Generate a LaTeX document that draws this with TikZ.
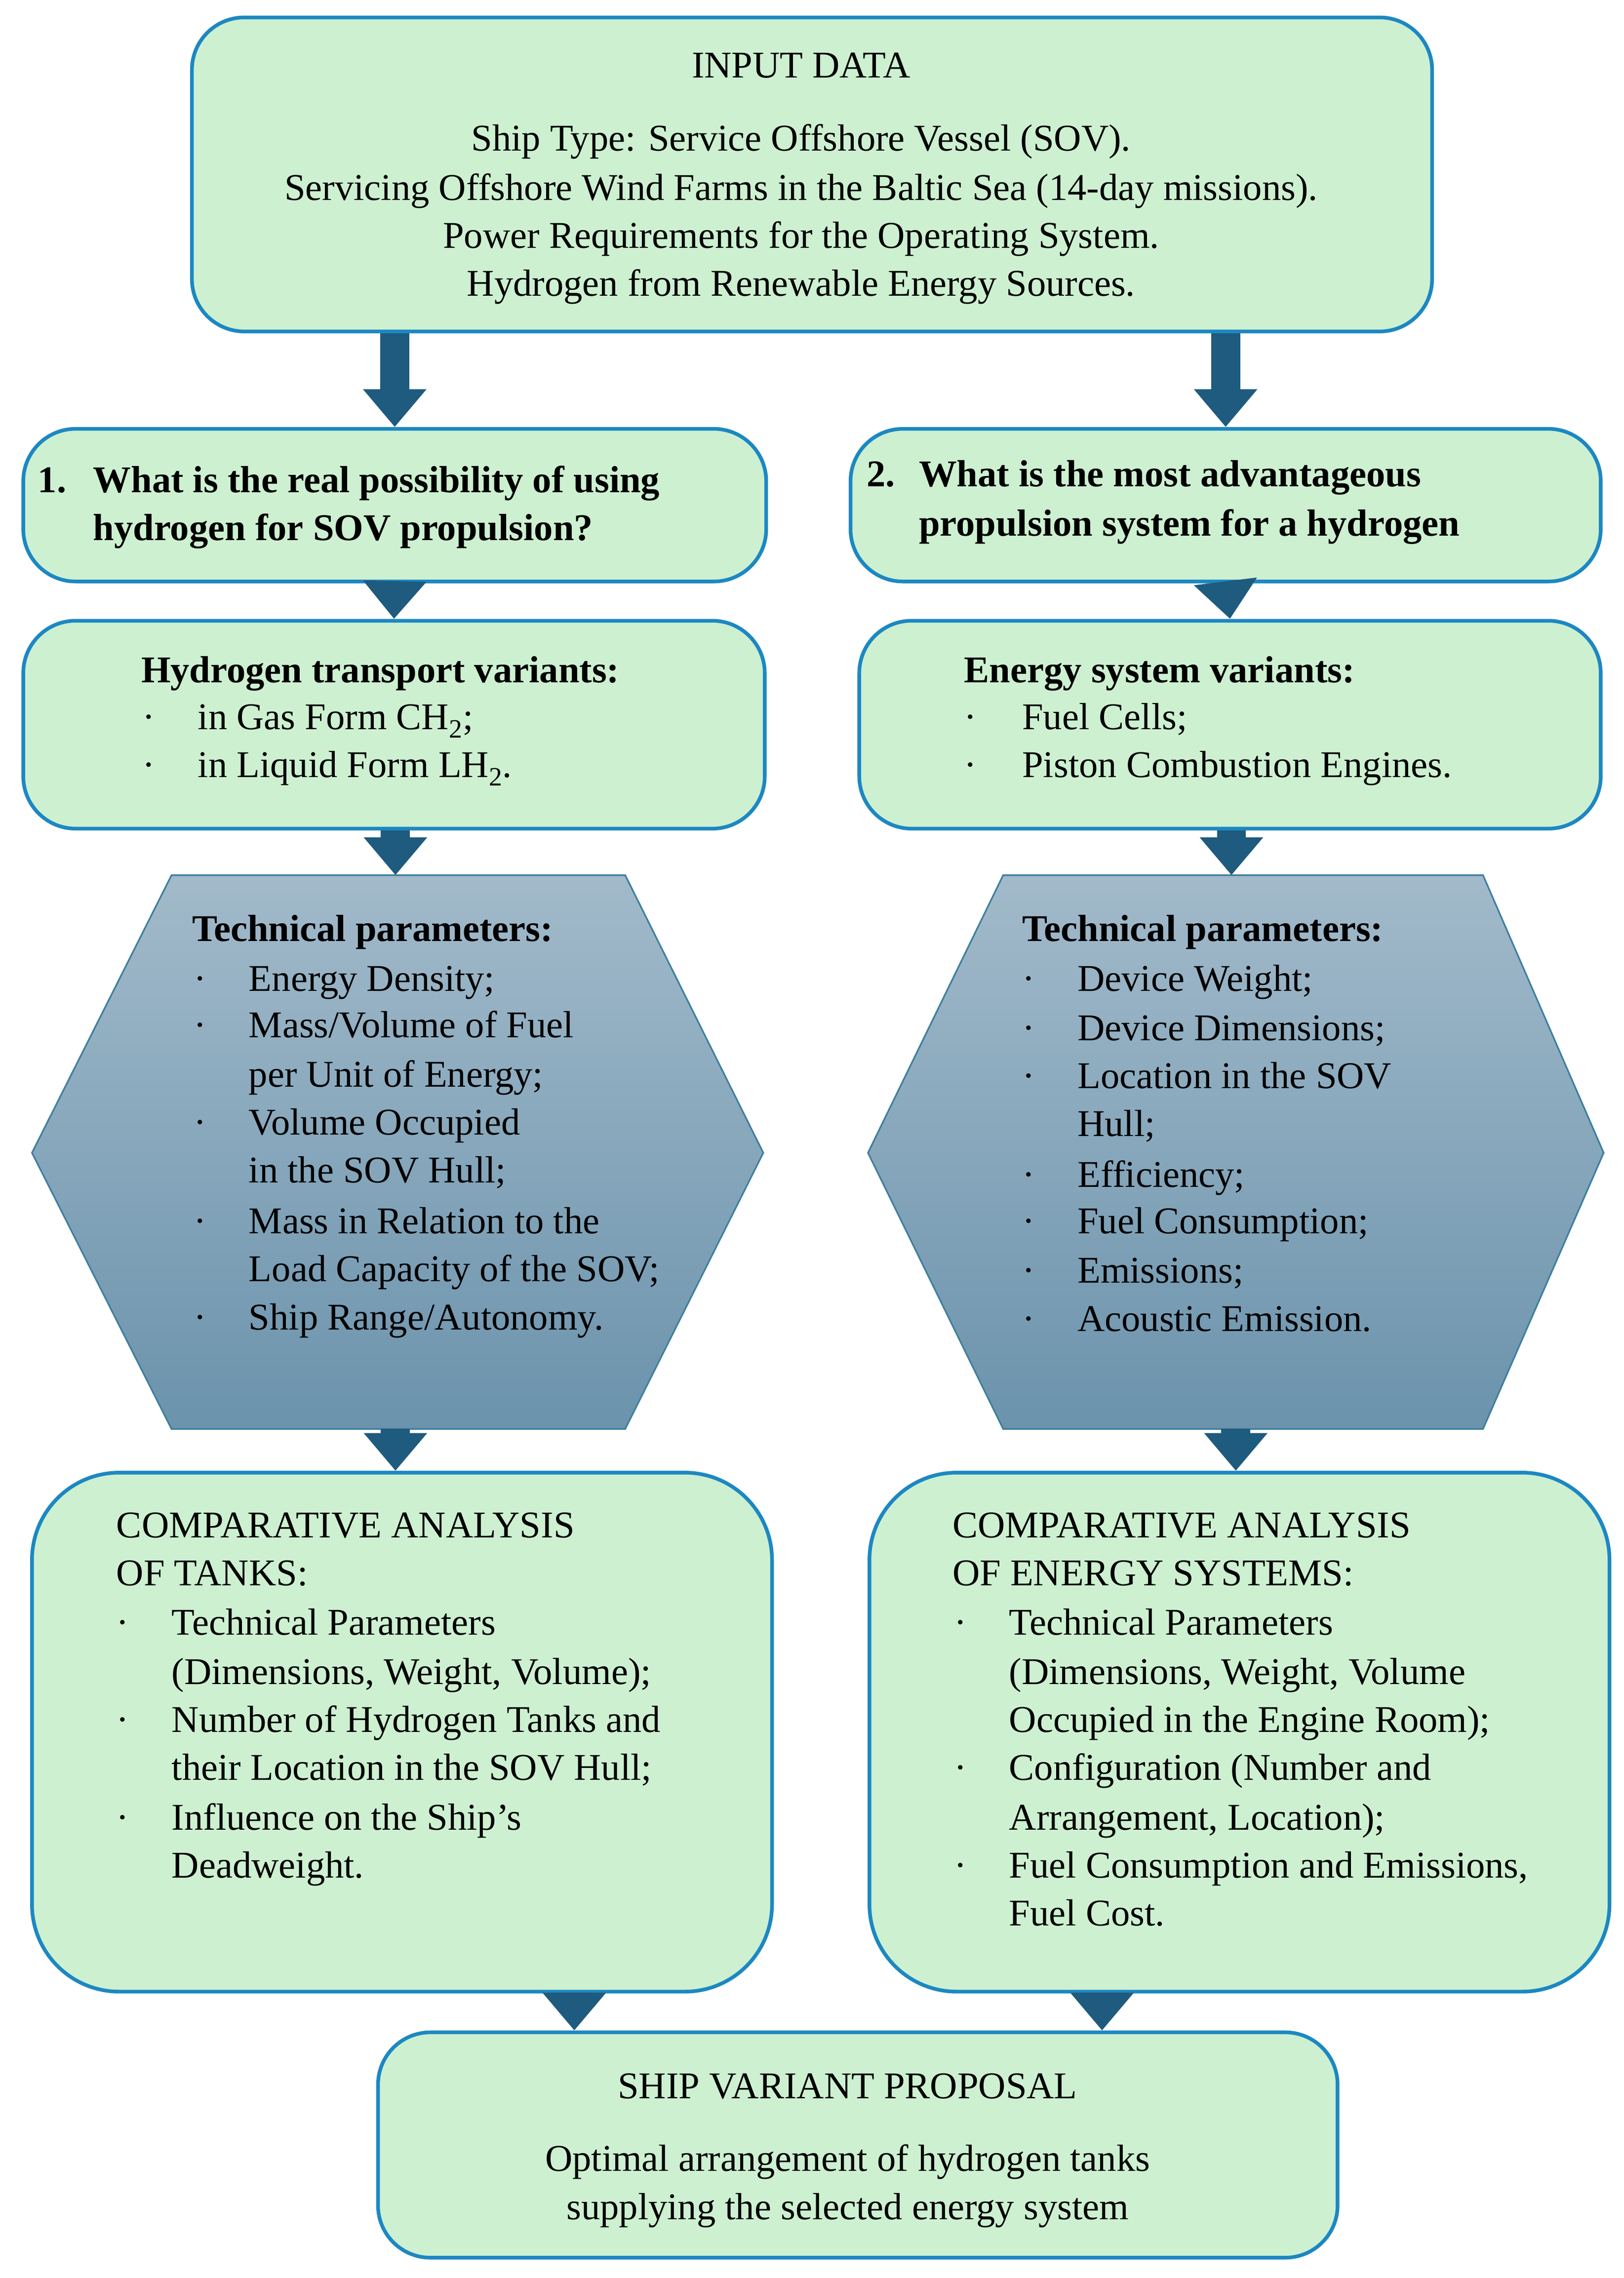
\documentclass[tikz,border=0pt]{standalone}
\usepackage{fontspec}
\setmainfont{Liberation Serif}
\usetikzlibrary{fit,arrows.meta}
\definecolor{gfill}{HTML}{CDF0D1}
\definecolor{gline}{HTML}{1C88C2}
\definecolor{arrc}{HTML}{1E5B7E}
\definecolor{htop}{HTML}{A2BACA}
\definecolor{hbot}{HTML}{6B93AC}
\definecolor{hline}{HTML}{3F7FA0}
\begin{document}
\begin{tikzpicture}[x=0.05cm,y=-0.05cm,
  box/.style={draw=gline,fill=gfill,line width=3.6pt,rounded corners=1.8cm,inner sep=0pt},
  bigbox/.style={box,rounded corners=3cm},
  hexs/.style={draw=hline,line width=1.6pt,top color=htop,bottom color=hbot},
  arr/.style={draw=arrc,line width=1cm,-{Triangle[width=2.1cm,length=1.3cm,fill=arrc]}},
  tx/.style={font=\fontsize{37}{44}\selectfont,inner sep=0pt,anchor=mid west,yshift=-0.3cm},
  tc/.style={tx,anchor=mid},
  bx/.style={tx,font=\fontsize{37}{44}\selectfont\bfseries},
  dot/.style={tx,font=\fontsize{37}{44}\selectfont}]
\useasboundingbox (0,0) rectangle (1117,1567);
% boxes
\node[box,fit={(132,12)(985,228)}] (inp) {};
\node[box,fit={(16,295)(527,400)}] (q1) {};
\node[box,fit={(585,295)(1101,400)}] (q2) {};
\node[box,fit={(16,427)(526,570)}] (v1) {};
\node[box,fit={(591,427)(1101,570)}] (v2) {};
\path[hexs] (118,602) -- (430,602) -- (525,793) -- (430,983) -- (118,983) -- (22,793) -- cycle;
\path[hexs] (690,602) -- (1020,602) -- (1103,793) -- (1020,983) -- (690,983) -- (597,793) -- cycle;
\coordinate (h1t) at (272,602); \coordinate (h1b) at (272,983);
\coordinate (h2t) at (847,602); \coordinate (h2b) at (850,983);
\node[bigbox,fit={(22,1013)(531,1370)}] (c1) {};
\node[bigbox,fit={(598,1013)(1107,1370)}] (c2) {};
\node[box,fit={(260,1398)(920,1553)}] (fin) {};
\coordinate (fa) at (395,0); \coordinate (fb) at (758,0);
% arrows
\draw[arr] (inp.south -| q1.north) -- (q1.north);
\draw[arr] (inp.south -| q2.north) -- (q2.north);
\draw[arr] (q1.south) -- (v1.north);
\draw[arr] (q2.south) -- (v2.north);
\draw[arr] (v1.south -| h1t) -- (h1t);
\draw[arr] (v2.south -| h2t) -- (h2t);
\draw[arr] (h1b) -- (c1.north -| h1b);
\draw[arr] (h2b) -- (c2.north -| h2b);
\draw[arr] (c1.south -| fa) -- (fin.north -| fa);
\draw[arr] (c2.south -| fb) -- (fin.north -| fb);
% input text
\node[tc] (i0) at (551,46) {INPUT DATA};
\node[tc] (i1) at (551,96) {Ship Type: Service Offshore Vessel (SOV).};
\node[tc] (i2) at (551,130) {Servicing Offshore Wind Farms in the Baltic Sea (14-day missions).};
\node[tc] (i3) at (551,163) {Power Requirements for the Operating System.};
\node[tc] (i4) at (551,196) {Hydrogen from Renewable Energy Sources.};
% questions
\node[bx] (a0) at (26,331) {1.};
\node[bx] (a1) at (64,331) {What is the real possibility of using};
\node[bx] (a2) at (64,364) {hydrogen for SOV propulsion?};
\node[bx] (b0) at (596,327) {2.};
\node[bx] (b1) at (632,327) {What is the most advantageous};
\node[bx] (b2) at (632,361) {propulsion system for a hydrogen};
% variants
\node[bx] (v1h) at (97,462) {Hydrogen transport variants:};
\node[dot] (v1d1) at (98,494) {·}; \node[tx] (v1t1) at (136,494) {in Gas Form CH\textsubscript{2};};
\node[dot] (v1d2) at (98,527) {·}; \node[tx] (v1t2) at (136,527) {in Liquid Form LH\textsubscript{2}.};
\node[bx] (v2h) at (663,462) {Energy system variants:};
\node[dot] (v2d1) at (663,494) {·}; \node[tx] (v2t1) at (703,494) {Fuel Cells;};
\node[dot] (v2d2) at (663,527) {·}; \node[tx] (v2t2) at (703,527) {Piston Combustion Engines.};
% hex left
\node[bx] (h1h) at (132,640) {Technical parameters:};
\node[dot] (h1d1) at (133,674) {·}; \node[tx] (h1t1) at (171,674) {Energy Density;};
\node[dot] (h1d2) at (133,706) {·}; \node[tx] (h1t2) at (171,706) {Mass/Volume of Fuel};
\node[tx] (h1t3) at (171,740) {per Unit of Energy;};
\node[dot] (h1d4) at (133,773) {·}; \node[tx] (h1t4) at (171,773) {Volume Occupied};
\node[tx] (h1t5) at (171,806) {in the SOV Hull;};
\node[dot] (h1d6) at (133,841) {·}; \node[tx] (h1t6) at (171,841) {Mass in Relation to the};
\node[tx] (h1t7) at (171,874) {Load Capacity of the SOV;};
\node[dot] (h1d8) at (133,907) {·}; \node[tx] (h1t8) at (171,907) {Ship Range/Autonomy.};
% hex right
\node[bx] (h2h) at (703,640) {Technical parameters:};
\node[dot] (h2d1) at (703,674) {·}; \node[tx] (h2t1) at (741,674) {Device Weight;};
\node[dot] (h2d2) at (703,708) {·}; \node[tx] (h2t2) at (741,708) {Device Dimensions;};
\node[dot] (h2d3) at (703,741) {·}; \node[tx] (h2t3) at (741,741) {Location in the SOV};
\node[tx] (h2t4) at (741,774) {Hull;};
\node[dot] (h2d5) at (703,809) {·}; \node[tx] (h2t5) at (741,809) {Efficiency;};
\node[dot] (h2d6) at (703,841) {·}; \node[tx] (h2t6) at (741,841) {Fuel Consumption;};
\node[dot] (h2d7) at (703,875) {·}; \node[tx] (h2t7) at (741,875) {Emissions;};
\node[dot] (h2d8) at (703,908) {·}; \node[tx] (h2t8) at (741,908) {Acoustic Emission.};
% comp left
\node[tx] (c1h1) at (80,1050) {COMPARATIVE ANALYSIS};
\node[tx] (c1h2) at (80,1083) {OF TANKS:};
\node[dot] (c1d1) at (80,1117) {·}; \node[tx] (c1t1) at (118,1117) {Technical Parameters};
\node[tx] (c1t2) at (118,1151) {(Dimensions, Weight, Volume);};
\node[dot] (c1d3) at (80,1184) {·}; \node[tx] (c1t3) at (118,1184) {Number of Hydrogen Tanks and};
\node[tx] (c1t4) at (118,1217) {their Location in the SOV Hull;};
\node[dot] (c1d5) at (80,1251) {·}; \node[tx] (c1t5) at (118,1251) {Influence on the Ship's};
\node[tx] (c1t6) at (118,1284) {Deadweight.};
% comp right
\node[tx] (c2h1) at (655,1050) {COMPARATIVE ANALYSIS};
\node[tx] (c2h2) at (655,1083) {OF ENERGY SYSTEMS:};
\node[dot] (c2d1) at (656,1117) {·}; \node[tx] (c2t1) at (694,1117) {Technical Parameters};
\node[tx] (c2t2) at (694,1151) {(Dimensions, Weight, Volume};
\node[tx] (c2t3) at (694,1184) {Occupied in the Engine Room);};
\node[dot] (c2d4) at (656,1217) {·}; \node[tx] (c2t4) at (694,1217) {Configuration (Number and};
\node[tx] (c2t5) at (694,1251) {Arrangement, Location);};
\node[dot] (c2d6) at (656,1284) {·}; \node[tx] (c2t6) at (694,1284) {Fuel Consumption and Emissions,};
\node[tx] (c2t7) at (694,1317) {Fuel Cost.};
% final
\node[tc] (f0) at (583,1436) {SHIP VARIANT PROPOSAL};
\node[tc] (f1) at (583,1486) {Optimal arrangement of hydrogen tanks};
\node[tc] (f2) at (583,1519) {supplying the selected energy system};
\end{tikzpicture}
\end{document}
